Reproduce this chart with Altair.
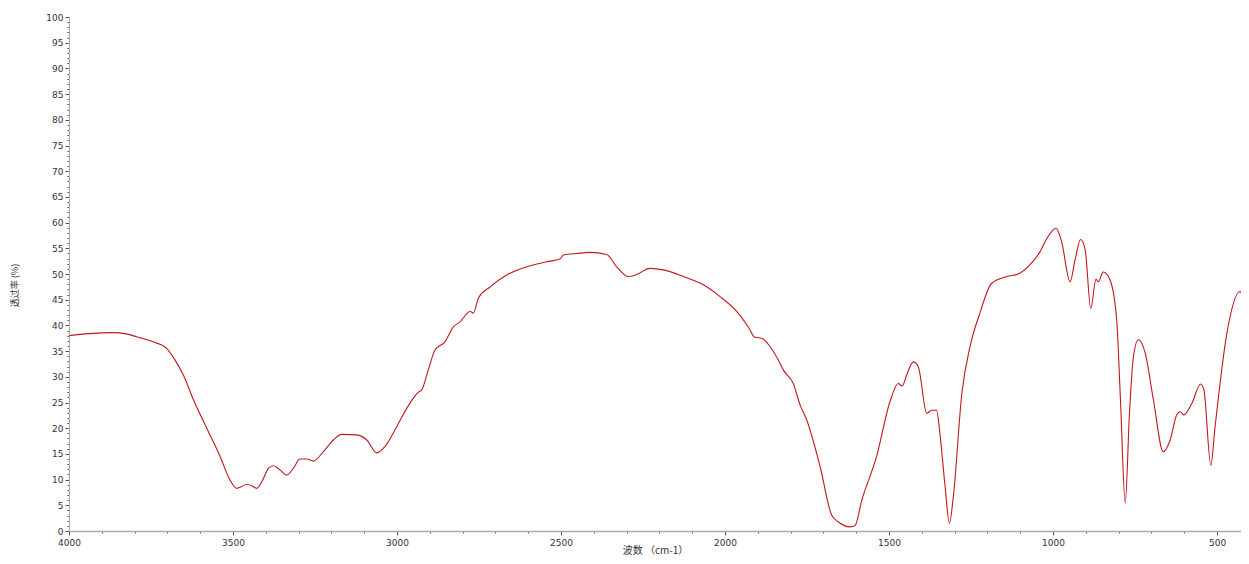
import altair as alt
import pandas as pd

wavenumber = [4000, 3940, 3865, 3830, 3794, 3743, 3702, 3677, 3651, 3621, 3580, 3540, 3509, 3489,
              3475, 3458, 3440, 3428, 3412, 3392, 3377, 3357, 3336, 3316, 3296, 3275, 3255, 3225,
              3194, 3169, 3123, 3092, 3062, 3037, 3001, 2970, 2935, 2925, 2905, 2884, 2854, 2828,
              2808, 2777, 2767, 2752, 2716, 2666, 2605, 2544, 2503, 2493, 2452, 2412, 2361, 2330,
              2295, 2269, 2229, 2188, 2127, 2066, 2015, 1964, 1929, 1909, 1888, 1863, 1832, 1822,
              1792, 1771, 1751, 1710, 1675, 1655, 1619, 1604, 1583, 1538, 1497, 1472, 1460, 1446,
              1426, 1411, 1385, 1370, 1355, 1345, 1329, 1316, 1304, 1278, 1253, 1223, 1187, 1141,
              1106, 1070, 1040, 1019, 991, 974, 948, 933, 916, 902, 885, 869, 862, 847, 826, 806,
              794, 780, 767, 755, 740, 719, 694, 664, 643, 623, 613, 601, 577, 550, 540, 519, 506,
              470, 430, 420, 402]
transmittance = [38.0, 38.4, 38.6, 38.4, 37.8, 36.8, 35.5, 33.3, 30.3, 25.6, 20.0, 14.6, 9.9, 8.3,
                 8.6, 9.1, 8.7, 8.3, 9.6, 12.2, 12.7, 11.9, 10.9, 12.2, 14.0, 14.0, 13.6, 15.4,
                 17.7, 18.8, 18.7, 17.7, 15.2, 16.4, 20.3, 23.9, 27.0, 27.4, 31.3, 35.2, 36.8, 39.7,
                 40.7, 42.7, 42.4, 45.3, 47.5, 49.8, 51.4, 52.4, 52.9, 53.7, 54.0, 54.2, 53.8, 51.4,
                 49.5, 49.9, 51.1, 50.8, 49.5, 47.9, 45.6, 42.7, 39.7, 37.7, 37.5, 35.9, 32.6, 31.3,
                 28.7, 24.5, 21.6, 12.5, 3.1, 1.8, 0.8, 1.0, 6.0, 14.5, 25.2, 28.7, 28.2, 30.4,
                 32.9, 32.0, 22.9, 23.5, 23.5, 19.0, 8.6, 1.5, 6.7, 26.8, 35.9, 42.4, 48.2, 49.5,
                 50.0, 51.8, 54.3, 56.9, 58.9, 56.3, 48.5, 52.7, 56.7, 54.7, 43.3, 49.0, 48.5, 50.4, 48.8, 41.1,
                 24.8, 5.4, 22.9, 33.9, 37.2, 34.6, 25.5, 15.4, 17.7, 22.6, 23.2, 22.6, 24.8, 28.6, 27.4, 12.8, 20.3,
                 38.5, 46.6, 45.5, 50.8]

x_ticks = list(range(500, 4001, 100))
y_ticks = list(range(0, 101, 1))

df = pd.DataFrame({"wn": wavenumber, "t": transmittance})

font = "DejaVu Sans"

chart = alt.Chart(df).mark_line(color="#c4161c", strokeWidth=1.1, interpolate="monotone", clip=True).encode(
    x=alt.X("wn:Q",
            scale=alt.Scale(domain=[427, 4000], reverse=True, nice=False, zero=False),
            axis=alt.Axis(values=x_ticks, format="d", grid=False,
                          labelExpr="datum.value % 500 === 0 ? datum.label : ''",
                          labelFlush=False, labelOverlap=False,
                          tickSize={"condition": {"test": "datum.value % 500 === 0", "value": 4}, "value": 2},
                          tickColor="#555555", domainColor="#aaaaaa", domainWidth=1.5,
                          labelFont=font, labelFontSize=9, labelColor="#333333", labelPadding=3,
                          title="波数 （cm-1）", titleFont="Noto Sans CJK SC", titleFontSize=10,
                          titleFontWeight="normal", titleColor="#333333",
                          titleY=24, titleBaseline="bottom")),
    y=alt.Y("t:Q",
            scale=alt.Scale(domain=[0, 100], nice=False),
            axis=alt.Axis(values=y_ticks, grid=False,
                          labelExpr="datum.value % 5 === 0 ? datum.label : ''",
                          labelFlush=False, labelOverlap=False,
                          tickSize={"condition": {"test": "datum.value % 5 === 0", "value": 4}, "value": 2},
                          tickColor="#555555", domainColor="#aaaaaa", domainWidth=1,
                          labelFont=font, labelFontSize=9, labelColor="#333333", labelPadding=2,
                          title="透过率 (%)", titleFont="Noto Sans CJK SC", titleFontSize=9,
                          titleFontWeight="normal", titleColor="#333333",
                          titleX=-50, titleY=268)),
).properties(
    width=1172, height=514,
    autosize=alt.AutoSizeParams(type="none"),
    padding={"left": 61, "top": 9, "right": 0, "bottom": 25},
).configure_view(stroke=None)

chart.save("out.html", embed_options={"renderer": "svg", "actions": False})
